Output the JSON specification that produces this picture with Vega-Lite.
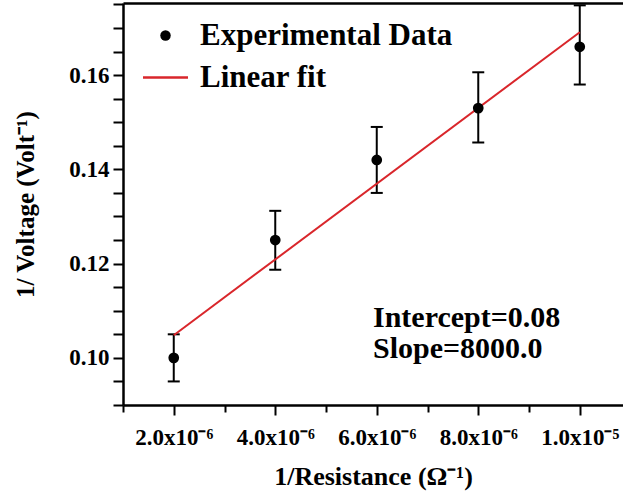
{
  "$schema": "https://vega.github.io/schema/vega-lite/v6.json",
  "autosize": {"type": "none"},
  "padding": {"left": 123, "top": 3, "right": 0, "bottom": 90},
  "width": 500,
  "height": 402,
  "background": "white",
  "config": {"view": {"stroke": null}},
  "datasets": {
    "pts": [
      {"x": 2e-6, "y": 0.100, "lo": 0.095, "hi": 0.105, "series": "Experimental Data"},
      {"x": 4e-6, "y": 0.125, "lo": 0.1187, "hi": 0.1312, "series": "Experimental Data"},
      {"x": 6e-6, "y": 0.142, "lo": 0.135, "hi": 0.149, "series": "Experimental Data"},
      {"x": 8e-6, "y": 0.153, "lo": 0.1457, "hi": 0.1606, "series": "Experimental Data"},
      {"x": 1e-5, "y": 0.166, "lo": 0.158, "hi": 0.1748, "series": "Experimental Data"}
    ],
    "fit": [
      {"x": 2e-6, "y": 0.1048, "series": "Linear fit"},
      {"x": 1e-5, "y": 0.1691, "series": "Linear fit"}
    ],
    "notes": [
      {"x": 5.926e-6, "y": 0.1066, "label": "Intercept=0.08"},
      {"x": 5.926e-6, "y": 0.1000, "label": "Slope=8000.0"}
    ]
  },
  "resolve": {"axis": {"x": "independent", "y": "independent"}},
  "layer": [
    {
      "data": {"name": "pts"},
      "mark": {"type": "rule", "color": "black", "strokeWidth": 2},
      "encoding": {
        "x": {
          "field": "x", "type": "quantitative",
          "scale": {"domain": [1e-6, 1.0852e-5], "nice": false, "zero": false},
          "axis": {
            "orient": "bottom",
            "values": [1e-6, 2e-6, 3e-6, 4e-6, 5e-6, 6e-6, 7e-6, 8e-6, 9e-6, 1e-5],
            "labelExpr": "round(datum.value*1e6) % 2 == 1 ? '' : (datum.value < 9.5e-6 ? format(datum.value*1e6, '.1f') + 'x10⁻⁶' : format(datum.value*1e5, '.1f') + 'x10⁻⁵')",
            "labelOverlap": false, "labelBound": false, "labelFlush": false,
            "tickSize": {"condition": {"test": "round(datum.value*1e6) % 2 == 1", "value": 7}, "value": 10},
            "tickWidth": 2, "tickColor": "black",
            "domainColor": "black", "domainWidth": 2.5,
            "grid": false,
            "labelFont": "Liberation Serif", "labelFontWeight": "bold", "labelFontSize": 23, "labelColor": "black", "labelPadding": 11,
            "title": "1/Resistance (Ω⁻¹)",
            "titleFont": "Liberation Serif", "titleFontWeight": "bold", "titleFontSize": 26, "titleColor": "black", "titlePadding": 14
          }
        },
        "y": {
          "field": "lo", "type": "quantitative",
          "scale": {"domain": [0.09, 0.1753], "nice": false, "zero": false},
          "axis": {
            "orient": "left",
            "values": [0.09, 0.095, 0.1, 0.105, 0.11, 0.115, 0.12, 0.125, 0.13, 0.135, 0.14, 0.145, 0.15, 0.155, 0.16, 0.165, 0.17, 0.175],
            "labelExpr": "round(datum.value*1000) % 20 == 0 ? format(datum.value, '.2f') : ''",
            "labelOverlap": false, "labelBound": false, "labelFlush": false,
            "tickSize": 10, "tickWidth": 2, "tickColor": "black",
            "domainColor": "black", "domainWidth": 2.5,
            "grid": false,
            "labelFont": "Liberation Serif", "labelFontWeight": "bold", "labelFontSize": 23, "labelColor": "black", "labelPadding": 4,
            "title": "1/ Voltage (Volt⁻¹)",
            "titleFont": "Liberation Serif", "titleFontWeight": "bold", "titleFontSize": 25, "titleColor": "black", "titlePadding": 30
          }
        },
        "y2": {"field": "hi"}
      }
    },
    {
      "data": {"name": "pts"},
      "mark": {"type": "point", "shape": "stroke", "size": 144, "color": "black", "strokeWidth": 2, "opacity": 1},
      "encoding": {
        "x": {"field": "x", "type": "quantitative", "axis": null},
        "y": {"field": "lo", "type": "quantitative", "axis": null}
      }
    },
    {
      "data": {"name": "pts"},
      "mark": {"type": "point", "shape": "stroke", "size": 144, "color": "black", "strokeWidth": 2, "opacity": 1},
      "encoding": {
        "x": {"field": "x", "type": "quantitative", "axis": null},
        "y": {"field": "hi", "type": "quantitative", "axis": null}
      }
    },
    {
      "data": {"name": "fit"},
      "mark": {"type": "line", "strokeWidth": 2},
      "encoding": {
        "x": {
          "field": "x", "type": "quantitative",
          "axis": {"orient": "top", "ticks": false, "labels": false, "title": null, "grid": false, "domainColor": "black", "domainWidth": 2.5}
        },
        "y": {"field": "y", "type": "quantitative", "axis": null},
        "color": {
          "field": "series", "type": "nominal",
          "scale": {"domain": ["Experimental Data", "Linear fit"], "range": ["black", "#d9262b"]},
          "legend": {
            "orient": "none", "legendX": 27, "legendY": 17,
            "title": null, "padding": 0,
            "symbolSize": 2025, "symbolType": "stroke", "symbolStrokeWidth": 2.5,
            "labelFont": "Liberation Serif", "labelFontWeight": "bold", "labelFontSize": 31, "labelColor": "black",
            "labelOffset": 19, "rowPadding": 10, "labelLimit": 400,
            "encode": {
              "symbols": {
                "update": {
                  "shape": {"signal": "datum.value === 'Linear fit' ? 'stroke' : 'circle'"},
                  "size": {"signal": "datum.value === 'Linear fit' ? 2025 : 110"},
                  "fill": {"signal": "datum.value === 'Linear fit' ? 'transparent' : 'black'"},
                  "stroke": {"signal": "datum.value === 'Linear fit' ? '#d9262b' : 'black'"},
                  "strokeWidth": {"signal": "datum.value === 'Linear fit' ? 2.5 : 0"},
                  "opacity": {"value": 1}
                }
              }
            }
          }
        }
      }
    },
    {
      "data": {"name": "pts"},
      "mark": {"type": "point", "filled": true, "size": 115, "opacity": 1},
      "encoding": {
        "x": {"field": "x", "type": "quantitative", "axis": null},
        "y": {"field": "y", "type": "quantitative", "axis": null},
        "color": {"field": "series", "type": "nominal"}
      }
    },
    {
      "data": {"name": "notes"},
      "mark": {"type": "text", "align": "left", "baseline": "alphabetic", "font": "Liberation Serif", "fontWeight": "bold", "fontSize": 30, "color": "black"},
      "encoding": {
        "x": {"field": "x", "type": "quantitative", "axis": null},
        "y": {"field": "y", "type": "quantitative", "axis": null},
        "text": {"field": "label"}
      }
    }
  ]
}
